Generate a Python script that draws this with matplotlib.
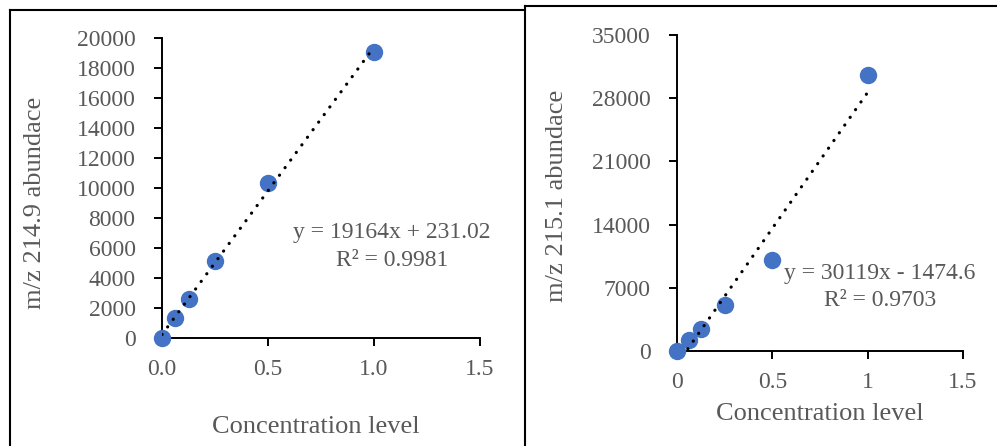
import matplotlib.pyplot as plt
from matplotlib.lines import Line2D
import numpy as np

plt.rcParams['font.family'] = ['Liberation Serif', 'DejaVu Serif']

# data
conc = [0, 0.0625, 0.125, 0.25, 0.5, 1.0]
abund_2149 = [0, 1330, 2600, 5150, 10330, 19070]
abund_2151 = [0, 1220, 2440, 5100, 10080, 30570]

# trendline coefficients shown on the chart
fit_2149 = (19164, 231.02, 0.9981)
fit_2151 = (30119, -1474.6, 0.9703)

W, H = 997, 446
fig = plt.figure(figsize=(W / 100, H / 100), dpi=100)

gray = '#595959'
blue = '#4472C4'
fs_tick = 17
fs_eq = 17
fs_lab = 19


def fx(px):
    return px / W


def fy(py):
    return 1 - py / H


def panel(rect, x, y, fit, yticks, xticks, xlabels, eq_pos, r2_pos):
    ax = fig.add_axes(rect)
    ax.scatter(x, y, s=11.5**2, color=blue, zorder=3, clip_on=False)
    m, b, r2 = fit
    xl = np.array([0, 1.0])
    ax.plot(xl, m * xl + b, color='black', lw=2.3,
            linestyle=(0, (0.05, 2.9)), dash_capstyle='round', zorder=4)
    ax.set_xlim(0, 1.5)
    ax.set_ylim(0, yticks[-1])
    ax.set_yticks(yticks)
    ax.set_yticklabels([str(v) for v in yticks])
    ax.set_xticks(xticks)
    ax.set_xticklabels(xlabels)
    for s in ['top', 'right']:
        ax.spines[s].set_visible(False)
    for s in ['left', 'bottom']:
        ax.spines[s].set_linewidth(1.4)
    ax.tick_params(direction='out', length=6, width=1.4, colors='black',
                   labelcolor=gray, labelsize=fs_tick)
    ax.tick_params(axis='y', pad=13)
    ax.tick_params(axis='x', pad=9)
    sign = '+' if b >= 0 else '-'
    fig.text(fx(eq_pos[0]), fy(eq_pos[1]), f'y = {m}x {sign} {abs(b)}',
             ha='center', va='center', color=gray, fontsize=fs_eq)
    fig.text(fx(r2_pos[0]), fy(r2_pos[1]), f'R² = {r2}',
             ha='center', va='center', color=gray, fontsize=fs_eq)
    return ax


panel([fx(162), fy(338), fx(480) - fx(162), fy(38) - fy(338)],
      conc, abund_2149, fit_2149, list(range(0, 20001, 2000)),
      [0, 0.5, 1.0, 1.5], ['0.0', '0.5', '1.0', '1.5'],
      (392, 233), (392, 260))
fig.text(fx(35), fy(203), 'm/z 214.9 abundace', rotation=90,
         ha='center', va='center', color=gray, fontsize=fs_lab)
fig.text(fx(316), fy(427), 'Concentration level',
         ha='center', va='center', color=gray, fontsize=fs_lab)

panel([fx(677), fy(351), fx(963) - fx(677), fy(35) - fy(351)],
      conc, abund_2151, fit_2151, list(range(0, 35001, 7000)),
      [0, 0.5, 1.0, 1.5], ['0', '0.5', '1', '1.5'],
      (880, 274), (880, 300))
fig.text(fx(557), fy(196), 'm/z 215.1 abundace', rotation=90,
         ha='center', va='center', color=gray, fontsize=fs_lab)
fig.text(fx(820), fy(414), 'Concentration level',
         ha='center', va='center', color=gray, fontsize=fs_lab)

# panel borders
for xs, ys in [([10, 10], [H + 5, 10]), ([10, 525], [10, 10]),
               ([525, 525], [6, H + 5]), ([525, W + 5], [6, 6])]:
    fig.add_artist(Line2D([fx(v) for v in xs], [fy(v) for v in ys],
                          color='black', lw=1.5))

fig.savefig('out.png', dpi=100)
